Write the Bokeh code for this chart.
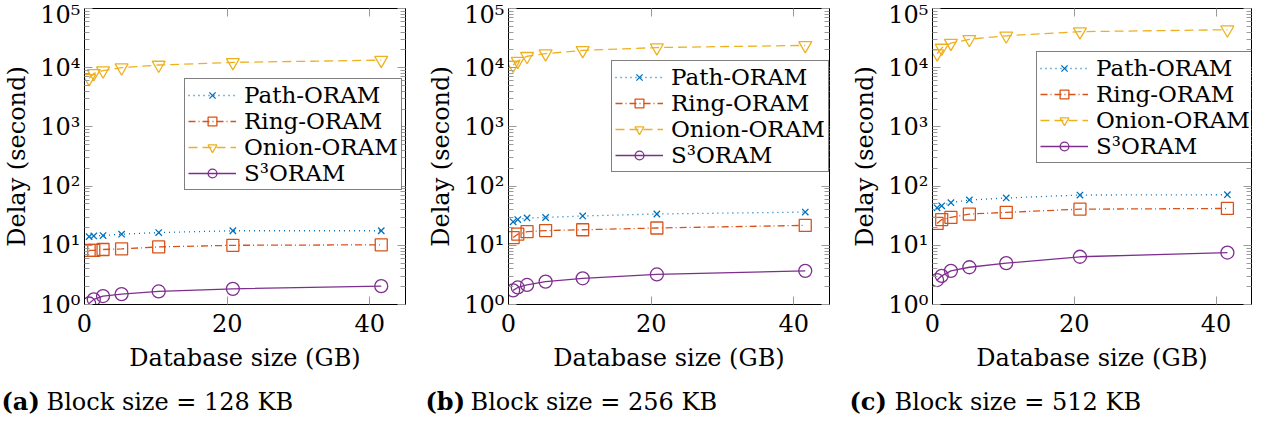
from bokeh.plotting import figure
from bokeh.layouts import row, column
from bokeh.models import (Range1d, FixedTicker, LogAxis, LinearAxis,
                          CustomJSTickFormatter, Label)
from bokeh.embed import file_html
from bokeh.resources import INLINE

# ---------------- data ----------------
sizes_gb = [0.65, 1.3, 2.6, 5.2, 10.4, 20.8, 41.6]

panel_tags = ["(a)", "(b)", "(c)"]
block_sizes = ["Block size = 128 KB", "Block size = 256 KB", "Block size = 512 KB"]
series_names = ["Path-ORAM", "Ring-ORAM", "Onion-ORAM", "S\u00b3ORAM"]

a_path = [14.0, 14.4, 14.6, 15.4, 16.4, 17.6, 17.6]
a_ring = [8.2, 8.2, 8.5, 8.7, 9.4, 10.0, 10.2]
a_onion = [6600, 8000, 8900, 10000, 11100, 12300, 13400]
a_s3 = [1.04, 1.22, 1.39, 1.50, 1.66, 1.84, 2.04]

b_path = [24.9, 27.2, 29.0, 29.5, 31.3, 33.8, 36.4]
b_ring = [13.5, 15.4, 17.0, 17.7, 18.3, 19.6, 21.7]
b_onion = [11100, 12900, 15600, 17300, 19600, 21900, 23800]
b_s3 = [1.73, 1.94, 2.14, 2.43, 2.77, 3.22, 3.70]

c_path = [43.0, 46.5, 52.5, 58.3, 63.0, 70.6, 71.5]
c_ring = [23.4, 27.2, 29.6, 33.7, 36.0, 40.8, 41.9]
c_onion = [17300, 21500, 26000, 30200, 34600, 40600, 43800]
c_s3 = [2.59, 3.05, 3.70, 4.26, 5.00, 6.40, 7.54]

x_ticks = [0, 20, 40]
y_ticks = [1, 10, 100, 1000, 10000, 100000]

# ---------------- style ----------------
FONT = "DejaVu Serif"
TICK_GRAY = "#9a9a9a"
styles = [
    dict(color="#0072BD", dash="1 4", marker="x", size=9),
    dict(color="#D95319", dash="7 3 1 3", marker="square", size=12),
    dict(color="#EDB120", dash="9 5", marker="inverted_triangle", size=13),
    dict(color="#7E2F8E", dash="solid", marker="circle", size=13),
]

FIG_W = [424, 424, 406]
RIGHT_B = [19, 19, 3]
MAIN_H, CAP_H = 384, 34
LEFT_B, TOP_B, BOTTOM_B = 75, 8, 80


def sup_fmt():
    return CustomJSTickFormatter(code="""
const sup = ['\u2070','\u00b9','\u00b2','\u00b3','\u2074','\u2075','\u2076'];
const e = Math.round(Math.log10(tick));
return '10' + sup[e];
""")


def blank_fmt():
    return CustomJSTickFormatter(code="return '';")


def y_ticker():
    minors = [m * 10 ** e for e in range(5) for m in range(2, 10)]
    return FixedTicker(ticks=y_ticks, minor_ticks=minors)


def style_axis(ax, hide_labels=False):
    ax.axis_line_color = "black"
    ax.major_tick_in = 8
    ax.major_tick_out = 0
    ax.minor_tick_in = 5
    ax.minor_tick_out = 0
    ax.major_tick_line_color = TICK_GRAY
    ax.minor_tick_line_color = TICK_GRAY
    ax.major_label_text_font = FONT
    ax.major_label_text_font_size = "1px" if hide_labels else "24px"
    ax.major_label_text_color = "black"
    ax.axis_label_text_font = FONT
    ax.axis_label_text_font_size = "24px"
    ax.axis_label_text_font_style = "normal"
    ax.axis_label_text_color = "black"
    if hide_labels:
        ax.major_label_standoff = 0
        ax.axis_label_standoff = 0


def make_panel(i, series, legend_xy):
    p = figure(width=FIG_W[i], height=MAIN_H,
               x_range=Range1d(0, 45), y_range=Range1d(1, 1e5),
               y_axis_type="log", output_backend="svg", toolbar_location=None,
               min_border_left=LEFT_B, min_border_right=RIGHT_B[i],
               min_border_top=TOP_B, min_border_bottom=BOTTOM_B)
    p.grid.visible = False
    p.outline_line_color = "black"
    p.background_fill_color = "white"

    for name, ys, st in zip(series_names, series, styles):
        p.line(sizes_gb, ys, line_color=st["color"], line_width=1.3,
               line_dash=st["dash"], legend_label=name)
        p.scatter(sizes_gb, ys, marker=st["marker"], size=st["size"],
                  line_color=st["color"], fill_color=None, line_width=1.3,
                  legend_label=name)

    p.xaxis.ticker = FixedTicker(ticks=x_ticks, minor_ticks=[])
    p.xaxis.axis_label = "Database size (GB)"
    style_axis(p.xaxis[0])
    p.xaxis.major_label_standoff = 9
    p.xaxis.axis_label_standoff = 9

    p.yaxis.ticker = y_ticker()
    p.yaxis.formatter = sup_fmt()
    p.yaxis.axis_label = "Delay (second)"
    style_axis(p.yaxis[0])
    p.yaxis.major_label_standoff = 4
    p.yaxis.axis_label_standoff = 6

    top = LinearAxis(ticker=FixedTicker(ticks=x_ticks, minor_ticks=[]),
                     formatter=blank_fmt())
    style_axis(top, hide_labels=True)
    p.add_layout(top, "above")
    right = LogAxis(ticker=y_ticker(), formatter=blank_fmt())
    style_axis(right, hide_labels=True)
    p.add_layout(right, "right")

    lg = p.legend[0]
    lg.location = legend_xy
    lg.border_line_color = "black"
    lg.border_line_width = 1
    lg.background_fill_color = "white"
    lg.background_fill_alpha = 1
    lg.label_text_font = FONT
    lg.label_text_font_size = "23px"
    lg.label_text_color = "black"
    lg.glyph_width = 48
    lg.glyph_height = 22
    lg.label_height = 22
    lg.label_standoff = 8
    lg.spacing = -4
    lg.padding = 3
    lg.margin = 0
    return p


p1 = make_panel(0, [a_path, a_ring, a_onion, a_s3], (100, 114))
p2 = make_panel(1, [b_path, b_ring, b_onion, b_s3], (103, 132))
p3 = make_panel(2, [c_path, c_ring, c_onion, c_s3], (104, 141))

# one caption strip spanning all three panels (x in pixels)
cap_w = sum(FIG_W)
cap = figure(width=cap_w, height=CAP_H, x_range=Range1d(0, cap_w), y_range=Range1d(0, 1),
             x_axis_location=None, y_axis_location=None, output_backend="svg",
             toolbar_location=None, min_border=0)
cap.grid.visible = False
cap.outline_line_color = None
off = 0
for i in range(3):
    cap.add_layout(Label(x=off + 1, y=0.5, text=panel_tags[i], text_font=FONT,
                         text_font_size="24px", text_font_style="bold",
                         text_color="black", text_baseline="middle"))
    cap.add_layout(Label(x=off + 46, y=0.5, text=block_sizes[i], text_font=FONT,
                         text_font_size="24px", text_color="black",
                         text_baseline="middle"))
    off += FIG_W[i]

layout = column(row(p1, p2, p3), cap)
open("out.html", "w").write(file_html(layout, INLINE))
